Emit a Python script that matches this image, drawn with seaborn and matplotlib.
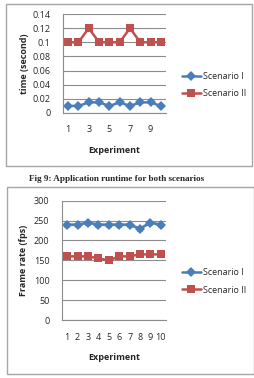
from matplotlib import pyplot as plt
from matplotlib.patches import Rectangle
from matplotlib.lines import Line2D
import numpy as np
import pandas as pd
import seaborn as sns

# Data
experiments = list(range(1, 11))
runtime_s1 = [0.01, 0.01, 0.015, 0.015, 0.01, 0.015, 0.01, 0.015, 0.015, 0.01]
runtime_s2 = [0.1, 0.1, 0.12, 0.1, 0.1, 0.1, 0.12, 0.1, 0.1, 0.1]
fps_s1 = [240, 240, 245, 240, 240, 240, 240, 230, 245, 240]
fps_s2 = [160, 160, 160, 155, 150, 160, 160, 165, 165, 165]
fps_s3 = [238, 238, 243, 238, 238, 238, 238, 228, 243, 238]  # hidden green series

BLUE = '#4A7EBB'
RED = '#C0504D'
GREEN = '#9BBB59'
GRID = '#8C8C8C'

W, H = 255, 378


def px_axes(fig, left, top, right, bottom):
    return fig.add_axes([left / W, 1 - bottom / H, (right - left) / W, (bottom - top) / H])


def style_axes(ax, ymax, ystep, yfmt, ylabel, xticks):
    ax.set_xlim(0.5, 10.5)
    ax.set_ylim(0, ymax)
    yt = np.arange(0, ymax + ystep / 2, ystep)
    ax.set_yticks(yt)
    ax.set_yticklabels([yfmt(v) for v in yt])
    ax.set_xticks(xticks)
    ax.set_xticklabels([str(x) for x in xticks])
    ax.set_xticks(np.arange(0.5, 11, 1), minor=True)
    ax.grid(axis='y', color=GRID, linewidth=0.8)
    ax.grid(axis='x', visible=False)
    ax.set_axisbelow(True)
    for s in ['top', 'right']:
        ax.spines[s].set_visible(False)
    for s in ['left', 'bottom']:
        ax.spines[s].set_color(GRID)
        ax.spines[s].set_linewidth(0.8)
    ax.tick_params(axis='y', length=3, width=0.8, color=GRID, labelsize=6.5, pad=6)
    ax.tick_params(axis='x', which='major', length=0, labelsize=6.5, pad=9)
    ax.tick_params(axis='x', which='minor', length=3, width=0.8, color=GRID)
    ax.set_facecolor('white')
    ax.set_xlabel('Experiment', fontsize=6.5, fontweight='bold', labelpad=8)
    ax.set_ylabel(ylabel, fontsize=6.5, fontweight='bold', labelpad=4)


sns.set_style('white')
plt.rcParams['font.family'] = ['Open Sans', 'DejaVu Sans']

fig = plt.figure(figsize=(W / 100, H / 100), dpi=100)

# chart frames
for (l, t, r, b) in [(6, 4, 252, 166), (7, 187, 254, 374)]:
    fig.patches.append(Rectangle((l / W, 1 - b / H), (r - l) / W, (b - t) / H,
                                 transform=fig.transFigure, fill=False,
                                 edgecolor='#A6A6A6', linewidth=1.0))

# top chart: runtime
runtime = pd.DataFrame({'Experiment': experiments * 2,
                        'value': runtime_s1 + runtime_s2,
                        'Scenario': ['Scenario I'] * 10 + ['Scenario II'] * 10})
ax1 = px_axes(fig, 63, 14, 166, 113)
sns.lineplot(data=runtime, x='Experiment', y='value', hue='Scenario', style='Scenario',
             palette=[BLUE, RED], markers=['D', 's'], dashes=False, markersize=5.5,
             markeredgewidth=0, linewidth=1.8, ax=ax1, legend=False)
style_axes(ax1, 0.14, 0.02, lambda v: '0' if v == 0 else ('%.2f' % v).rstrip('0'),
           'time (second)', [1, 3, 5, 7, 9])
ax1.yaxis.set_label_coords(-0.33, 0.5)

# bottom chart: frame rate
ax2 = px_axes(fig, 62, 200.7, 166, 320)
sns.lineplot(x=experiments, y=fps_s3, color=GREEN, marker='^', markersize=4.5,
             markeredgewidth=0, linewidth=1.2, ax=ax2)
frames = pd.DataFrame({'Experiment': experiments * 2,
                       'value': fps_s1 + fps_s2,
                       'Scenario': ['Scenario I'] * 10 + ['Scenario II'] * 10})
sns.lineplot(data=frames, x='Experiment', y='value', hue='Scenario', style='Scenario',
             palette=[BLUE, RED], markers=['D', 's'], dashes=False, markersize=5.5,
             markeredgewidth=0, linewidth=1.8, ax=ax2, legend=False)
style_axes(ax2, 300, 50, lambda v: '%d' % v, 'Frame rate (fps)', experiments)
ax2.yaxis.set_label_coords(-0.33, 0.5)

# legends
handles = [Line2D([], [], color=BLUE, marker='D', markersize=5, markeredgewidth=0, linewidth=1.8),
           Line2D([], [], color=RED, marker='s', markersize=6, markeredgewidth=0, linewidth=1.8)]
for y in [85, 281.5]:
    fig.legend(handles, ['Scenario I', 'Scenario II'], loc='center left',
               bbox_to_anchor=(177 / W, 1 - y / H), frameon=False, fontsize=6.5,
               handlelength=2.2, handletextpad=0.2, labelspacing=0.9, borderpad=0)

# caption between the charts
fig.text(117 / W, 1 - 179 / H, 'Fig 9: Application runtime for both scenarios',
         ha='center', va='center', fontsize=6.6, fontweight='bold',
         family=['Liberation Serif', 'DejaVu Serif'])

fig.savefig('out.png', dpi=100)
